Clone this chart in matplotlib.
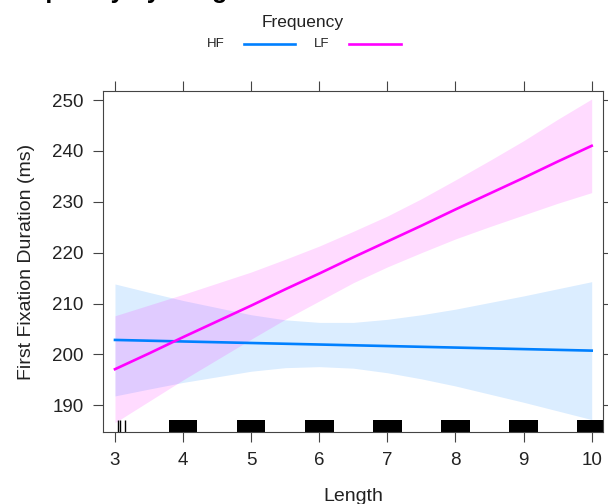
import numpy as np
import matplotlib
matplotlib.use("Agg")
from matplotlib import pyplot as plt
from matplotlib.lines import Line2D

plt.rcParams["font.family"] = ["Liberation Sans", "DejaVu Sans"]

# Word length grid used for the fitted effects
length = [3, 3.5, 4, 4.5, 5, 5.5, 6, 6.5, 7, 7.5, 8, 8.5, 9, 9.5, 10]

# High frequency words: fit and 95% band
hf_fit = [202.85, 202.7, 202.55, 202.4, 202.25, 202.1, 201.95, 201.8,
          201.65, 201.5, 201.35, 201.2, 201.05, 200.9, 200.75]
hf_upper = [213.85, 212.2, 210.6, 209.2, 207.8, 206.8, 206.3, 206.3,
            206.9, 207.8, 208.9, 210.2, 211.5, 212.9, 214.3]
hf_lower = [191.85, 193.2, 194.5, 195.6, 196.7, 197.4, 197.6, 197.3,
            196.4, 195.2, 193.8, 192.2, 190.6, 188.9, 187.2]

# Low frequency words: fit and 95% band
lf_fit = [197.1, 200.2, 203.4, 206.5, 209.6, 212.8, 215.9, 219.1,
          222.2, 225.3, 228.5, 231.6, 234.7, 237.9, 241.0]
lf_upper = [207.6, 209.7, 211.8, 214.0, 216.2, 218.7, 221.3, 224.2,
            227.2, 230.6, 234.3, 238.1, 242.0, 246.2, 250.2]
lf_lower = [186.6, 190.8, 195.0, 199.0, 203.0, 206.9, 210.5, 214.1,
            217.2, 220.0, 222.7, 225.1, 227.4, 229.7, 231.8]

# Observed lengths for the rug (dense clusters + a few single ticks)
rug_clusters = [4, 5, 6, 7, 8, 9, 10]
rug_singles = [3.04, 3.07, 3.15]

x_ticks = [3, 4, 5, 6, 7, 8, 9, 10]
y_ticks = [190, 200, 210, 220, 230, 240, 250]

HF_COL = "#0080ff"
LF_COL = "#ff00ff"
AX_COL = "#444444"
TXT_COL = "#222222"

fig = plt.figure(figsize=(6.08, 5.04), dpi=100)
ax = fig.add_axes([103 / 608, 1 - 432.3 / 504, 500 / 608, 341.3 / 504])

## Confidence bands
ax.fill_between(length, hf_lower, hf_upper, color=HF_COL, alpha=0.14, linewidth=0)
ax.fill_between(length, lf_lower, lf_upper, color=LF_COL, alpha=0.14, linewidth=0)

## Fitted lines
ax.plot(length, hf_fit, color=HF_COL, linewidth=1.9)
ax.plot(length, lf_fit, color=LF_COL, linewidth=1.9)

## Rug along the bottom of the panel
xt = ax.get_xaxis_transform()
ax.bar(rug_clusters, 0.036, width=0.42, bottom=0, color="black",
       transform=xt, linewidth=0)
ax.vlines(rug_singles, 0, 0.036, colors="black", linewidth=1.0, transform=xt)

## Axis limits and ticks (lattice style: ticks outside on all sides)
ax.set_xlim(2.824, 10.166)
ax.set_ylim(184.7, 251.77)
ax.set_xticks(x_ticks)
ax.set_yticks(y_ticks)
ax.tick_params(direction="out", length=7, width=0.8, color=AX_COL,
               top=True, right=True, labeltop=False, labelright=False,
               labelsize=13.5, labelcolor=TXT_COL, pad=7)
for s in ax.spines.values():
  s.set_color(AX_COL)
  s.set_linewidth(0.8)

ax.set_xlabel("Length", fontsize=14, color=TXT_COL, labelpad=14)
ax.set_ylabel("First Fixation Duration (ms)", fontsize=14, color=TXT_COL, labelpad=12)

## Legend on top, drawn by hand (label then line)
fig.text(303 / 608, 1 - 23 / 504, "Frequency", ha="center", va="center",
         fontsize=12.5, color=TXT_COL)
fig.text(216 / 608, 1 - 44 / 504, "HF", ha="center", va="center",
         fontsize=9.5, color=TXT_COL)
fig.text(322 / 608, 1 - 44 / 504, "LF", ha="center", va="center",
         fontsize=9.5, color=TXT_COL)
fig.add_artist(Line2D([244 / 608, 295 / 608], [1 - 44 / 504, 1 - 44 / 504],
                      color=HF_COL, linewidth=1.9, transform=fig.transFigure))
fig.add_artist(Line2D([349 / 608, 401 / 608], [1 - 44 / 504, 1 - 44 / 504],
                      color=LF_COL, linewidth=1.9, transform=fig.transFigure))

## Title (sits mostly above the canvas)
fig.text(-0.004, 1.003, "Frequency by Length", ha="left", va="baseline",
         fontsize=18, fontweight="bold", color="black")

fig.savefig("out.png", dpi=100)
